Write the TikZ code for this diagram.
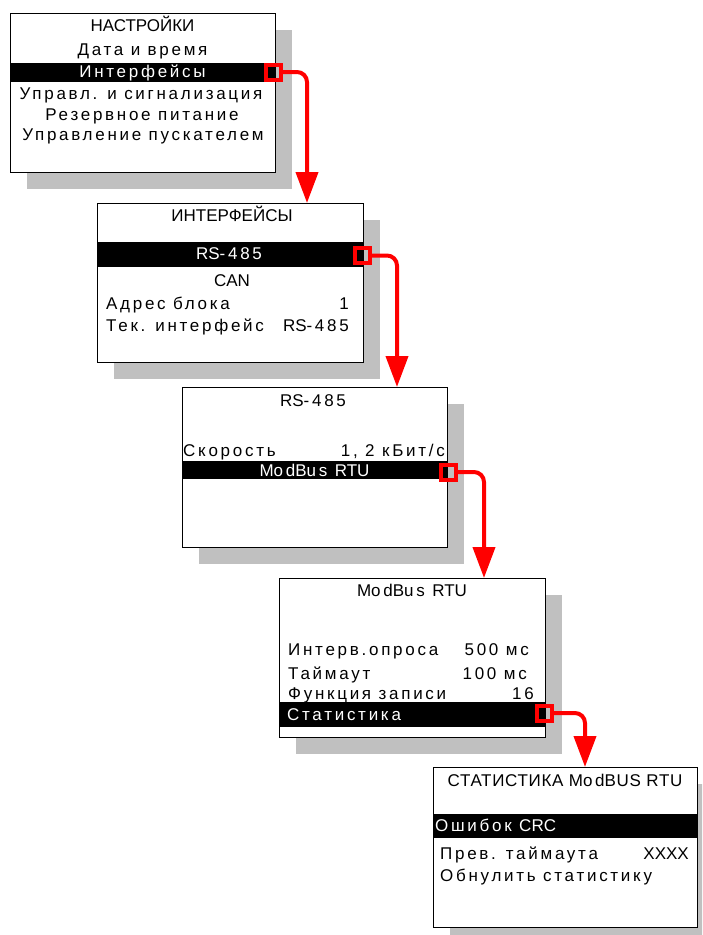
\documentclass[tikz,border=0pt]{standalone}
\usepackage{fontspec}
\setmainfont{Liberation Sans}
\newfontfamily\spfont[LetterSpace=16]{Liberation Sans}
\newfontfamily\plfont{Liberation Sans}
\newfontfamily\pltfont[LetterSpace=4]{Liberation Sans}
\newcommand{\cp}[1]{{\plfont #1}}
\newcommand{\ct}[1]{{\pltfont #1}}
\usetikzlibrary{arrows.meta,shadows}
\definecolor{shgray}{RGB}{192,192,192}
\definecolor{hired}{RGB}{255,0,0}
\begin{document}
\begin{tikzpicture}[x=1pt,y=-1pt,
  screen/.style={draw=black,line width=1pt,fill=white,inner sep=0pt,anchor=north west,
    minimum width=265pt,minimum height=159pt,
    drop shadow={shadow xshift=16pt,shadow yshift=-16pt,fill=shgray,opacity=1}},
  itm/.style={inner sep=0pt,font=\spfont\fontsize{17}{19}\selectfont,text=black},
  sel/.style={itm,text=white},
  bar/.style={fill=black},
  sq/.style={draw=hired,line width=4pt,minimum size=15pt,inner sep=0pt,rectangle},
  arr/.style={draw=hired,line width=4pt,rounded corners=10pt,-{Triangle[width=22pt,length=31pt]}}]
\clip (0,0) rectangle (702,935);
\fill[white] (0,0) rectangle (702,935);

% screens
\node[screen] (b1) at (10,13) {};
\node[screen,minimum width=266pt] (b2) at (97,203) {};
\node[screen,minimum height=160pt] (b3) at (182,387) {};
\node[screen,minimum width=266pt] (b4) at (279,578) {};
\node[screen,minimum width=264pt,minimum height=160pt] (b5) at (433,767) {};

% highlight bars
\fill[bar] (10,63) rectangle (275,82);
\fill[bar] (97,242) rectangle (363,267);
\fill[bar] (182,461) rectangle (447,479);
\fill[bar] (279,702) rectangle (545,727);
\fill[bar] (433,814) rectangle (697,838);

% screen 1
\node[itm,anchor=base] (t11) at (142.5,31.5) {\cp{НАСТРОЙКИ}};
\node[itm,anchor=base] (t12) at (142.5,55) {Дата и время};
\node[sel,anchor=base] (t13) at (142.5,77.5) {Интерфейсы};
\node[itm,anchor=base] (t14) at (141,99.5) {Управл. и сигнализация};
\node[itm,anchor=base] (t15) at (142,120) {Резервное питание};
\node[itm,anchor=base] (t16) at (143,140) {Управление пускателем};

% screen 2
\node[itm,anchor=base] (t21) at (232,221.5) {\cp{ИНТЕРФЕЙСЫ}};
\node[sel,anchor=base] (t22) at (229,259) {\cp{RS}-485};
\node[itm,anchor=base] (t23) at (232,286.5) {\cp{CAN}};
\node[itm,anchor=base west] (t24) at (106,309) {Адрес блока};
\node[itm,anchor=base east] (t25) at (349,309) {1};
\node[itm,anchor=base west] (t26) at (106,331) {Тек. интерфейс};
\node[itm,anchor=base east] (t27) at (349,331) {\cp{RS}-485};

% screen 3
\node[itm,anchor=base] (t31) at (313,406) {\cp{RS}-485};
\node[itm,anchor=base west] (t32) at (183,456) {Скорость};
\node[itm,anchor=base east] (t33) at (445,456) {1, 2 кБит/с};
\node[sel,anchor=base] (t34) at (314.5,476) {\cp{M}od\cp{B}us \cp{RTU}};

% screen 4
\node[itm,anchor=base] (t41) at (412,596.5) {\cp{M}od\cp{B}us \cp{RTU}};
\node[itm,anchor=base west] (t42) at (288,655.5) {Интерв.опроса};
\node[itm,anchor=base east] (t43) at (529,655.5) {500 мс};
\node[itm,anchor=base west] (t44) at (288,679) {Таймаут};
\node[itm,anchor=base east] (t45) at (527,679) {100 мс};
\node[itm,anchor=base west] (t46) at (288,699) {Функция записи};
\node[itm,anchor=base east] (t47) at (534,699) {16};
\node[sel,anchor=base west] (t48) at (287,720) {Статистика};

% screen 5
\node[itm,anchor=base] (t51) at (565,786) {\ct{СТАТИСТИКА M}od\ct{BUS RTU}};
\node[sel,anchor=base west] (t52) at (435,831) {Ошибок \cp{CRC}};
\node[itm,anchor=base west] (t53) at (440,859) {Прев. таймаута};
\node[itm,anchor=base east] (t54) at (689,859) {\cp{XXXX}};
\node[itm,anchor=base west] (t55) at (440,881.5) {Обнулить статистику};

% red markers
\node[sq] (s1) at (273,72) {};
\node[sq] (s2) at (362.5,255.5) {};
\node[sq] (s3) at (448.5,472) {};
\node[sq] (s4) at (544.5,713) {};

% turn points
\coordinate (c1) at (307,0);
\coordinate (c2) at (397,0);
\coordinate (c3) at (484,0);
\coordinate (c4) at (585,0);

% arrows
\draw[arr] (s1.east) -| (c1 |- b2.north);
\draw[arr] (s2.east) -| (c2 |- b3.north);
\draw[arr] (s3.east) -| (c3 |- b4.north);
\draw[arr] (s4.east) -| (c4 |- b5.north);
\end{tikzpicture}
\end{document}
